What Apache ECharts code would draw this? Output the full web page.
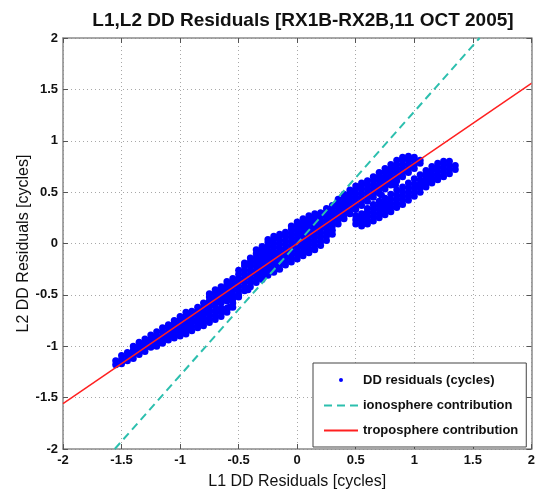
<!DOCTYPE html>
<html>
<head>
<meta charset="utf-8">
<script src="https://cdn.jsdelivr.net/npm/echarts@6/dist/echarts.min.js"></script>
<style>
  html, body { margin: 0; padding: 0; background: #ffffff; }
  #chart { width: 538px; height: 495px; }
</style>
</head>
<body>
<div id="chart"></div>
<script>
// Axis ticks (cycles)
const axisTicks = [-2, -1.5, -1, -0.5, 0, 0.5, 1, 1.5, 2];

// DD residual samples, grouped as [L1 residual, [L2 residuals...]]
// Lower-left tail running along the troposphere line
const tailUpper = [
  [-1.55, [-1.18, -1.14]],
  [-1.50, [-1.17, -1.13, -1.09]],
  [-1.45, [-1.14, -1.10, -1.06]],
  [-1.40, [-1.12, -1.08, -1.04, -1.00]],
  [-1.35, [-1.08, -1.04, -1.00, -0.96]],
  [-1.30, [-1.05, -1.01, -0.97, -0.93]],
  [-1.25, [-1.01, -0.97, -0.93, -0.89]],
  [-1.20, [-0.98, -0.94, -0.90, -0.86]],
  [-1.15, [-0.94, -0.90, -0.86, -0.82]],
  [-1.10, [-0.90, -0.86, -0.82, -0.79]],
  [-1.05, [-0.86, -0.82, -0.78, -0.75]],
  [-1.00, [-0.82, -0.78, -0.74, -0.71]],
  [-0.95, [-0.78, -0.74, -0.70, -0.67]],
  [-0.90, [-0.74, -0.70, -0.66]],
  [-0.85, [-0.70, -0.66, -0.62]],
  [-0.80, [-0.66, -0.62, -0.58]]
];

// Second strand just below the tail
const tailLower = [
  [-1.20, [-1.00, -0.97]],
  [-1.15, [-0.97, -0.93]],
  [-1.10, [-0.94, -0.90]],
  [-1.05, [-0.92, -0.88]],
  [-1.00, [-0.90, -0.86]],
  [-0.95, [-0.88, -0.84, -0.80]],
  [-0.90, [-0.85, -0.81, -0.77]],
  [-0.85, [-0.82, -0.78, -0.74]],
  [-0.80, [-0.80, -0.76, -0.72, -0.68]],
  [-0.75, [-0.77, -0.73, -0.69]],
  [-0.70, [-0.74, -0.70, -0.66]],
  [-0.65, [-0.71, -0.67, -0.63]],
  [-0.60, [-0.67, -0.63]],
  [-0.55, [-0.62, -0.58]]
];

// Dense central cloud
const mainCloud = [
  [-0.75, [-0.64, -0.60, -0.56, -0.52, -0.49]],
  [-0.70, [-0.61, -0.57, -0.53, -0.49, -0.45]],
  [-0.65, [-0.58, -0.54, -0.50, -0.46, -0.42]],
  [-0.60, [-0.56, -0.52, -0.48, -0.44, -0.40, -0.37]],
  [-0.55, [-0.54, -0.50, -0.46, -0.42, -0.38, -0.34]],
  [-0.50, [-0.50, -0.46, -0.42, -0.38, -0.34, -0.30, -0.26]],
  [-0.45, [-0.46, -0.42, -0.38, -0.34, -0.30, -0.26, -0.22, -0.19]],
  [-0.40, [-0.42, -0.38, -0.34, -0.30, -0.26, -0.22, -0.18, -0.14]],
  [-0.35, [-0.38, -0.34, -0.30, -0.26, -0.22, -0.18, -0.14, -0.10, -0.06]],
  [-0.30, [-0.35, -0.31, -0.27, -0.23, -0.19, -0.15, -0.11, -0.07, -0.03]],
  [-0.25, [-0.31, -0.27, -0.23, -0.19, -0.15, -0.11, -0.07, -0.03, 0.01, 0.04]],
  [-0.20, [-0.28, -0.24, -0.20, -0.16, -0.12, -0.08, -0.04, 0.00, 0.04, 0.07]],
  [-0.15, [-0.25, -0.21, -0.17, -0.13, -0.09, -0.05, -0.01, 0.03, 0.07, 0.09]],
  [-0.10, [-0.21, -0.17, -0.13, -0.09, -0.05, -0.01, 0.03, 0.07, 0.11]],
  [-0.05, [-0.18, -0.14, -0.10, -0.06, -0.02, 0.02, 0.06, 0.10, 0.14, 0.17]],
  [0.00, [-0.15, -0.11, -0.07, -0.03, 0.01, 0.05, 0.09, 0.13, 0.17, 0.21]],
  [0.05, [-0.12, -0.08, -0.04, 0.00, 0.04, 0.08, 0.12, 0.16, 0.20, 0.24]],
  [0.10, [-0.09, -0.05, -0.01, 0.03, 0.07, 0.11, 0.15, 0.19, 0.23, 0.27]],
  [0.15, [-0.06, -0.02, 0.02, 0.06, 0.10, 0.14, 0.18, 0.22, 0.26, 0.29]],
  [0.20, [-0.02, 0.02, 0.06, 0.10, 0.14, 0.18, 0.22, 0.26, 0.30]],
  [0.25, [0.03, 0.07, 0.11, 0.15, 0.19, 0.23, 0.27, 0.31, 0.34]],
  [0.30, [0.09, 0.13, 0.17, 0.21, 0.25, 0.29, 0.33, 0.37]],
  [0.35, [0.19, 0.23, 0.27, 0.31, 0.35, 0.39, 0.43]],
  [0.40, [0.24, 0.28, 0.32, 0.36, 0.40, 0.44, 0.48]],
  [0.45, [0.29, 0.33, 0.37, 0.41, 0.45, 0.49, 0.52]],
  [0.50, [0.33, 0.37, 0.41, 0.45, 0.49, 0.53, 0.56]],
  [0.55, [0.37, 0.41, 0.45, 0.49, 0.53, 0.57, 0.59]],
  [0.60, [0.41, 0.45, 0.49, 0.53, 0.57, 0.61]],
  [0.65, [0.45, 0.49, 0.53, 0.57, 0.61, 0.65]],
  [0.70, [0.49, 0.53, 0.57, 0.61, 0.65, 0.69]],
  [0.75, [0.53, 0.57, 0.61, 0.65, 0.69, 0.73]],
  [0.80, [0.57, 0.61, 0.65, 0.69, 0.73, 0.77]],
  [0.85, [0.61, 0.65, 0.69, 0.73, 0.77, 0.81]],
  [0.90, [0.65, 0.69, 0.73, 0.77, 0.81, 0.84]],
  [0.95, [0.69, 0.73, 0.77, 0.81, 0.85]],
  [1.00, [0.73, 0.77, 0.81, 0.84]],
  [1.05, [0.78, 0.81]]
];

// Separate branch on the right
const rightBranch = [
  [0.50, [0.19, 0.23, 0.27]],
  [0.55, [0.17, 0.21, 0.25, 0.29]],
  [0.60, [0.19, 0.23, 0.27, 0.31, 0.34]],
  [0.65, [0.22, 0.26, 0.30, 0.34, 0.38]],
  [0.70, [0.25, 0.29, 0.33, 0.37, 0.41]],
  [0.75, [0.28, 0.32, 0.36, 0.40, 0.44]],
  [0.80, [0.31, 0.35, 0.39, 0.43, 0.48]],
  [0.85, [0.35, 0.39, 0.43, 0.47, 0.52]],
  [0.90, [0.38, 0.42, 0.46, 0.50, 0.55]],
  [0.95, [0.42, 0.46, 0.50, 0.54, 0.59]],
  [1.00, [0.46, 0.50, 0.54, 0.58, 0.63]],
  [1.05, [0.50, 0.54, 0.58, 0.62, 0.67]],
  [1.10, [0.55, 0.59, 0.63, 0.67, 0.71]],
  [1.15, [0.59, 0.63, 0.67, 0.71, 0.75]],
  [1.20, [0.62, 0.66, 0.70, 0.74, 0.78]],
  [1.25, [0.65, 0.69, 0.73, 0.77, 0.80]],
  [1.30, [0.68, 0.72, 0.76, 0.80]],
  [1.35, [0.72, 0.76]]
];

// Isolated samples
const strayPoints = [
  [-0.58, -0.62], [-0.50, -0.52], [-0.42, -0.45], [-0.33, -0.33],
  [0.84, 0.57], [0.72, 0.47]
];

// Model lines: ionosphere slope f1/f2, troposphere slope f2/f1
const ionosphereLine = [[-1.558, -2], [1.558, 2]];
const troposphereLine = [[-2, -1.558], [2, 1.558]];

function expandColumns(cols) {
  const out = [];
  cols.forEach(function (c) {
    c[1].forEach(function (y) { out.push([c[0], y]); });
  });
  return out;
}

const residualPoints = []
  .concat(expandColumns(tailUpper))
  .concat(expandColumns(tailLower))
  .concat(expandColumns(mainCloud))
  .concat(expandColumns(rightBranch))
  .concat(strayPoints);

const FONT = '"Liberation Sans", Arial, Helvetica, sans-serif';
const frameColor = '#8a8a8a';
const gridColor = '#a8a8a8';

// Legend glyph for the samples: a small dot centred in the 34x14 icon box
const dotIcon = 'path://M0,0L0.01,0M34,14L34.01,14M15,7A2,2 0 1,0 19,7A2,2 0 1,0 15,7Z';
// Line entries keep their stroke but hide the marker drawn in the middle
const hiddenMarker = { color: 'rgba(0,0,0,0)', borderWidth: 0, borderColor: 'rgba(0,0,0,0)' };

function fmt(v) { return String(v); }

const baseAxis = {
  type: 'value',
  min: axisTicks[0],
  max: axisTicks[axisTicks.length - 1],
  interval: 0.5,
  axisLine: { show: true, onZero: false, lineStyle: { color: frameColor, width: 1.5 } },
  axisTick: { show: true, inside: true, length: 5, lineStyle: { color: '#555', width: 1 } },
  splitLine: { show: false }
};

const tickLabel = { fontFamily: FONT, fontWeight: 'bold', fontSize: 13, color: '#111', margin: 5, formatter: fmt };
const axisName = { fontFamily: FONT, fontSize: 16, color: '#111' };

const chart = echarts.init(document.getElementById('chart'), null, { renderer: 'canvas' });

chart.setOption({
  animation: false,
  backgroundColor: '#ffffff',
  title: {
    text: 'L1,L2 DD Residuals [RX1B-RX2B,11 OCT 2005]',
    left: 298,
    textAlign: 'center',
    top: 6,
    textStyle: { fontFamily: FONT, fontWeight: 'bold', fontSize: 19, color: '#111' }
  },
  grid: { left: 63, right: 5, top: 38, bottom: 37, containLabel: false },
  legend: {
    orient: 'vertical',
    left: 313,
    top: 363,
    padding: [10, 8, 10, 10],
    itemWidth: 34,
    itemHeight: 14,
    itemGap: 12,
    backgroundColor: '#ffffff',
    borderColor: '#444',
    borderWidth: 1,
    borderRadius: 0,
    textStyle: { fontFamily: FONT, fontWeight: 'bold', fontSize: 13, color: '#111' },
    data: [
      { name: 'DD residuals (cycles)', icon: dotIcon },
      { name: 'ionosphere contribution', itemStyle: hiddenMarker },
      { name: 'troposphere contribution', itemStyle: hiddenMarker }
    ]
  },
  xAxis: [
    Object.assign({}, baseAxis, {
      position: 'bottom',
      name: 'L1 DD Residuals [cycles]',
      nameLocation: 'middle',
      nameGap: 25,
      nameTextStyle: axisName,
      axisLabel: tickLabel,
      splitLine: { show: true, lineStyle: { color: gridColor, width: 1, type: [1, 3] } }
    }),
    Object.assign({}, baseAxis, { position: 'top', axisLabel: { show: false } })
  ],
  yAxis: [
    Object.assign({}, baseAxis, {
      position: 'left',
      name: 'L2 DD Residuals [cycles]',
      nameLocation: 'middle',
      nameGap: 31,
      nameMoveOverlap: false,
      nameTextStyle: axisName,
      axisLabel: tickLabel,
      splitLine: { show: true, lineStyle: { color: gridColor, width: 1, type: [1, 3] } }
    }),
    Object.assign({}, baseAxis, { position: 'right', axisLabel: { show: false } })
  ],
  series: [
    {
      name: 'DD residuals (cycles)',
      type: 'scatter',
      xAxisIndex: 0,
      yAxisIndex: 0,
      symbol: 'circle',
      symbolSize: 7,
      itemStyle: { color: '#0000ff', opacity: 1 },
      data: residualPoints,
      z: 2
    },
    {
      name: 'ionosphere contribution',
      type: 'line',
      xAxisIndex: 0,
      yAxisIndex: 0,
      symbol: 'none',
      lineStyle: { color: '#2cbfae', width: 2, type: [8, 5] },
      itemStyle: { color: '#2cbfae' },
      data: ionosphereLine,
      z: 3
    },
    {
      name: 'troposphere contribution',
      type: 'line',
      xAxisIndex: 0,
      yAxisIndex: 0,
      symbol: 'none',
      lineStyle: { color: '#ff2020', width: 1.5 },
      itemStyle: { color: '#ff2020' },
      data: troposphereLine,
      z: 4
    }
  ]
});
</script>
</body>
</html>
